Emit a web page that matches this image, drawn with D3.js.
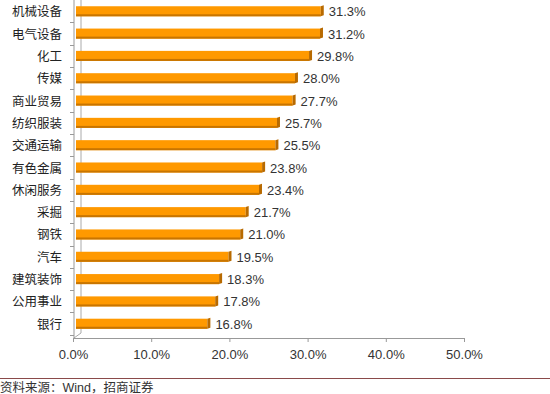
<!DOCTYPE html>
<html>
<head>
<meta charset="utf-8">
<script src="https://cdn.jsdelivr.net/npm/d3@7"></script>
<style>
  body { margin: 0; background: #fff; }
  text { font-family: Arial, "Liberation Sans", "Noto Sans CJK SC", sans-serif; }
</style>
</head>
<body>
<div id="chart"></div>
<script>
const categories = ["机械设备", "电气设备", "化工", "传媒", "商业贸易", "纺织服装", "交通运输",
  "有色金属", "休闲服务", "采掘", "钢铁", "汽车", "建筑装饰", "公用事业", "银行"]
const values = [31.3, 31.2, 29.8, 28.0, 27.7, 25.7, 25.5, 23.8, 23.4, 21.7, 21.0, 19.5, 18.3, 17.8, 16.8]
const tickValues = [0, 10, 20, 30, 40, 50]

const WIDTH = 550, HEIGHT = 394
const AXIS_Y = 338

const svg = d3.select("#chart").append("svg")
  .attr("width", WIDTH).attr("height", HEIGHT)

const x = d3.scaleLinear().domain([0, 50]).range([73, 464])
const y = d3.scaleBand().domain(categories).range([0, 335]).paddingInner(0.55).paddingOuter(0.28)

// back wall / depth lines
svg.append("line").attr("x1", 81).attr("x2", 81).attr("y1", 0).attr("y2", 333)
  .attr("stroke", "#aaa").attr("stroke-width", 1)
svg.append("line").attr("x1", 81).attr("x2", 74).attr("y1", 333).attr("y2", AXIS_Y)
  .attr("stroke", "#aaa").attr("stroke-width", 1)

// left (category) axis
svg.append("line").attr("x1", 74).attr("x2", 74).attr("y1", 0).attr("y2", AXIS_Y)
  .attr("stroke", "#999")
const step = y.step()
svg.selectAll(".ctick").data(d3.range(1, categories.length + 1)).enter().append("line")
  .attr("x1", 70).attr("x2", 74)
  .attr("y1", i => Math.round(i * step) + 0.5).attr("y2", i => Math.round(i * step) + 0.5)
  .attr("stroke", "#999")

svg.selectAll(".clabel").data(categories).enter().append("text")
  .attr("x", 62)
  .attr("y", d => y(d) + y.bandwidth() / 2 + 5)
  .attr("text-anchor", "end")
  .attr("font-size", 12.5)
  .attr("fill", "#222")
  .text(d => d)

// bottom axis
const xAxis = svg.append("g").attr("transform", `translate(0, ${AXIS_Y})`)
  .call(d3.axisBottom(x).tickValues(tickValues).tickSize(4).tickFormat(d => d.toFixed(1) + "%"))
xAxis.select(".domain").attr("stroke", "#999")
xAxis.selectAll(".tick line").attr("stroke", "#999")
xAxis.selectAll(".tick text").attr("font-size", 13).attr("fill", "#333")
  .attr("font-family", "Arial, 'Liberation Sans', sans-serif").attr("dy", "1.05em")

// bars (pseudo-3d)
const bars = svg.selectAll(".bar").data(categories).enter().append("g")
bars.append("rect")
  .attr("x", x(0) + 3)
  .attr("y", d => y(d))
  .attr("width", (d, i) => x(values[i]) - x(0))
  .attr("height", y.bandwidth())
  .attr("fill", "#ff9900")
bars.append("rect")
  .attr("x", x(0) + 3)
  .attr("y", d => y(d) + y.bandwidth() - 2)
  .attr("width", (d, i) => x(values[i]) - x(0))
  .attr("height", 2)
  .attr("fill", "#c87500")
bars.append("path")
  .attr("d", (d, i) => {
    const x1 = x(values[i]) + 3, y0 = y(d), h = y.bandwidth()
    return `M${x1},${y0}L${x1 + 3},${y0 - 1}L${x1 + 3},${y0 + h - 1}L${x1},${y0 + h}Z`
  })
  .attr("fill", "#b86a00")

bars.append("text")
  .attr("x", (d, i) => x(values[i]) + 11)
  .attr("y", d => y(d) + y.bandwidth() / 2 + 5)
  .attr("font-size", 13)
  .attr("fill", "#333")
  .text((d, i) => values[i].toFixed(1) + "%")

// footer
svg.append("line").attr("x1", 0).attr("x2", WIDTH).attr("y1", 378.5).attr("y2", 378.5)
  .attr("stroke", "#8a4a4a").attr("stroke-width", 1)
svg.append("text").attr("x", 0).attr("y", 392)
  .attr("font-size", 12.5).attr("fill", "#333")
  .attr("font-family", "'Noto Sans CJK SC', sans-serif")
  .text("资料来源：Wind，招商证券")
</script>
</body>
</html>
